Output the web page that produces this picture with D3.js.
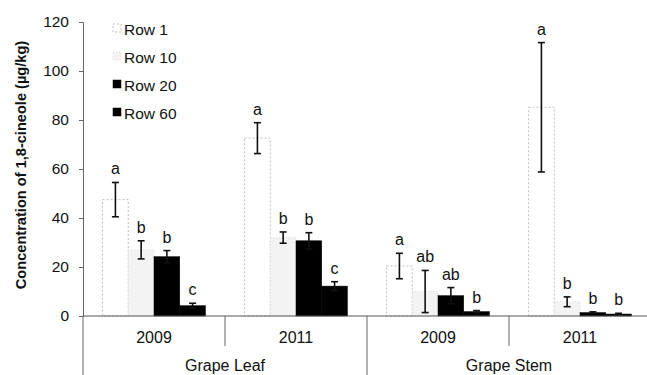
<!DOCTYPE html>
<html><head><meta charset="utf-8">
<script src="https://cdn.jsdelivr.net/npm/d3@7"></script>
<style>body{margin:0;background:#fff}svg{display:block}text{font-family:"Liberation Sans",Arial,sans-serif}</style>
</head><body><svg id="c" width="647" height="375"></svg>
<script>
const groups = ["Leaf 2009","Leaf 2011","Stem 2009","Stem 2011"];
const years = ["2009","2011","2009","2011"];
const tissues = ["Grape Leaf","Grape Stem"];
const series = ["Row 1","Row 10","Row 20","Row 60"];
const row1  = [47.5, 72.6, 20.4, 85.2];
const row10 = [27.0, 32.0, 10.0, 5.8];
const row20 = [24.2, 30.7, 8.3, 1.4];
const row60 = [4.2, 12.2, 1.8, 0.8];
const err1  = [7.0, 6.3, 5.2, 26.4];
const err10 = [3.7, 2.3, 8.6, 2.0];
const err20 = [2.5, 3.3, 3.3, 0.3];
const err60 = [1.0, 1.8, 0.4, 0.3];
const let1  = ["a","a","a","a"];
const let10 = ["b","b","ab","b"];
const let20 = ["b","b","ab","b"];
const let60 = ["c","c","b","b"];
const yTicks = [0,20,40,60,80,100,120];

const vals=[row1,row10,row20,row60], errs=[err1,err10,err20,err60], lets=[let1,let10,let20,let60];
const svg=d3.select("#c");
const x0=d3.scaleBand().domain(groups).range([83,651]);
const x1=d3.scaleBand().domain(series).range([0,x0.bandwidth()]).paddingOuter(0.76);
const y=d3.scaleLinear().domain([0,120]).range([316,22]);

// bars
const fills=["#ffffff","#f3f3f3","#000","#000"];
const strokes=["#b0b0b0","#d0d0d0","#000","#000"];
const dashes=["2,2","1,2",null,null];
series.forEach((s,si)=>{
  groups.forEach((g,gi)=>{
    const v=vals[si][gi], bx=x0(g)+x1(s), bw=x1.bandwidth();
    svg.append("rect").attr("x",bx).attr("y",y(v)).attr("width",bw).attr("height",y(0)-y(v))
      .attr("fill",fills[si]).attr("stroke",strokes[si]).attr("stroke-width",si<2?0.8:0.5)
      .attr("stroke-dasharray",dashes[si]);
  });
});
// error bars + letters
series.forEach((s,si)=>{
  groups.forEach((g,gi)=>{
    const v=vals[si][gi], e=errs[si][gi];
    const cx=x0(g)+x1(s)+x1.bandwidth()/2;
    const top=y(v+e), bot=y(Math.max(0,v-e));
    const col="#111";
    svg.append("line").attr("x1",cx).attr("x2",cx).attr("y1",top).attr("y2",bot).attr("stroke",col).attr("stroke-width",1.6);
    [top,bot].forEach(yy=>svg.append("line").attr("x1",cx-3.5).attr("x2",cx+3.5).attr("y1",yy).attr("y2",yy).attr("stroke",col).attr("stroke-width",1.6));
    svg.append("text").attr("x",cx).attr("y",top-8).attr("text-anchor","middle").attr("font-size",16).attr("fill","#111").text(lets[si][gi]);
  });
});

// y axis
const ya=svg.append("g").attr("transform","translate(83,0)").call(d3.axisLeft(y).tickValues(yTicks).tickSize(4).tickPadding(10));
ya.select(".domain").attr("stroke","#666");
ya.selectAll(".tick line").attr("stroke","#666");
ya.selectAll(".tick text").attr("font-size",15.5).attr("fill","#111").attr("font-family","Liberation Sans,Arial,sans-serif");

// x axis line
svg.append("line").attr("x1",83).attr("x2",647).attr("y1",y(0)).attr("y2",y(0)).attr("stroke","#555").attr("stroke-width",1);
// separators
groups.forEach((g,gi)=>{
  const xx=x0(g);
  svg.append("line").attr("x1",xx).attr("x2",xx).attr("y1",y(0)).attr("y2",gi%2===0?375:346).attr("stroke","#666").attr("stroke-width",1);
  svg.append("text").attr("x",xx+x0.bandwidth()/2).attr("y",343).attr("text-anchor","middle").attr("font-size",16).attr("fill","#111").text(years[gi]);
});
tissues.forEach((t,ti)=>{
  const xx=x0(groups[ti*2])+x0.bandwidth();
  svg.append("text").attr("x",xx).attr("y",371).attr("text-anchor","middle").attr("font-size",16).attr("fill","#111").text(t);
});

// y title
svg.append("text").attr("transform","translate(26,165) rotate(-90)").attr("text-anchor","middle")
  .attr("font-size",14.6).attr("font-weight","bold").attr("fill","#111").text("Concentration of 1,8-cineole (µg/kg)");

// legend
const lg=svg.append("g");
series.forEach((s,si)=>{
  const ly=29+si*28;
  lg.append("rect").attr("x",113).attr("y",ly-5).attr("width",8).attr("height",8)
    .attr("fill",fills[si]).attr("stroke",strokes[si]).attr("stroke-dasharray",dashes[si]).attr("stroke-width",si<2?0.8:0.5);
  lg.append("text").attr("x",124).attr("y",ly+5.5).attr("font-size",15.5).attr("fill","#111").text(s);
});
</script></body></html>
